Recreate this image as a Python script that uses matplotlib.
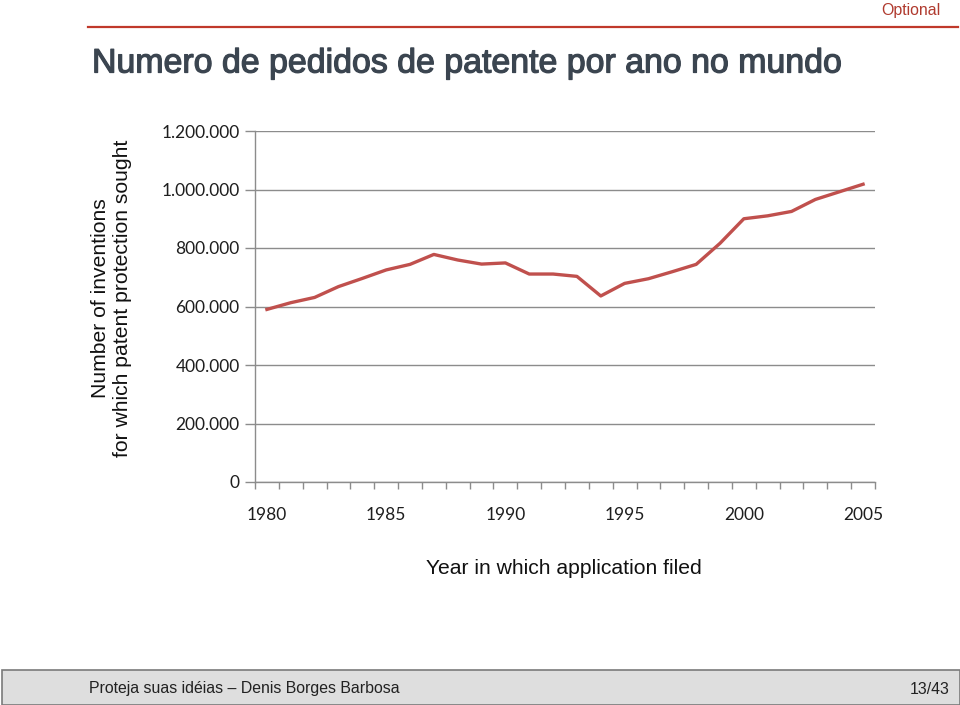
import matplotlib.pyplot as plt
import matplotlib.patheffects as pe
from matplotlib.patches import Rectangle
from matplotlib.lines import Line2D
from matplotlib.ticker import FuncFormatter

# Patent applications per year
years = list(range(1980, 2006))
applications = [590000, 613000, 631000, 668000, 696000, 725000, 744000, 778000,
                759000, 745000, 749000, 711000, 711000, 703000, 636000, 679000,
                695000, 719000, 744000, 816000, 900000, 910000, 925000, 966000,
                992000, 1018000]
year_labels = ["1980", "1985", "1990", "1995", "2000", "2005"]
y_ticks = [0, 200000, 400000, 600000, 800000, 1000000, 1200000]

fig = plt.figure(figsize=(9.6, 7.05), dpi=100)

# top decoration and slide title
fig.add_artist(Line2D([88 / 960, 958 / 960], [1 - 27 / 705, 1 - 27 / 705],
                      color="#c0392b", lw=1.6))
fig.text(941 / 960, 1 - 11 / 705, "Optional", color="#b03a2e", fontsize=11.4,
         family="Liberation Sans", ha="right", va="center")
title = fig.text(92 / 960, 1 - 64 / 705, "Numero de pedidos de patente por ano no mundo",
                 color="#3b4550", fontsize=24.4, family="Liberation Sans",
                 ha="left", va="center")
# the original title looks a little heavier than plain regular
title.set_path_effects([pe.withStroke(linewidth=0.9, foreground="#3b4550")])

# chart area
ax = fig.add_axes([255 / 960, 1 - 482 / 705, 620 / 960, (482 - 131) / 705])
pos = list(range(len(years)))
ax.plot(pos, applications, color="#c0504d", lw=2.4, solid_joinstyle="round")

ax.set_xlim(-0.5, len(years) - 0.5)
ax.set_ylim(0, 1200000)
ax.set_yticks(y_ticks)
ax.yaxis.set_major_formatter(FuncFormatter(lambda v, p: f"{int(v):,}".replace(",", ".")))
ax.grid(axis="y", color="#8c8c8c", lw=1.0)
ax.set_axisbelow(True)

# category boundaries as ticks, year labels every 5 years
ax.set_xticks([i - 0.5 for i in range(len(years) + 1)])
ax.set_xticklabels([])
ax.set_xticks([years.index(int(y)) for y in year_labels], minor=True)
ax.set_xticklabels(year_labels, minor=True)
ax.tick_params(axis="x", which="major", length=5, color="#8c8c8c", width=1)
ax.tick_params(axis="x", which="minor", length=0, pad=18, labelsize=12.5,
               labelcolor="#1e1e1e")
ax.tick_params(axis="y", length=7, color="#8c8c8c", width=1, pad=4,
               labelsize=12.5, labelcolor="#1e1e1e")
for lbl in ax.get_xticklabels(minor=True) + ax.get_yticklabels():
    lbl.set_family("Lato")

for s in ["top", "right"]:
    ax.spines[s].set_visible(False)
for s in ["left", "bottom"]:
    ax.spines[s].set_color("#8c8c8c")
    ax.spines[s].set_linewidth(1.0)

fig.text(112 / 960, 1 - 298 / 705,
         "Number of inventions\nfor which patent protection sought",
         rotation=90, ha="center", va="center", fontsize=15.2,
         family="Liberation Sans", color="#111111", linespacing=1.2)
fig.text(564 / 960, 1 - 568 / 705, "Year in which application filed",
         ha="center", va="center", fontsize=15.2, family="Liberation Sans",
         color="#111111")

# footer bar
fig.add_artist(Rectangle((2 / 960, 0), 958 / 960, 35 / 705, transform=fig.transFigure,
                         facecolor="#dedede", edgecolor="#7a7a7a", lw=1.2))
fig.text(89 / 960, 1 - 688 / 705, "Proteja suas idéias – Denis Borges Barbosa",
         fontsize=11.4, family="Liberation Sans", color="#222222",
         ha="left", va="center")
fig.text(950 / 960, 1 - 689 / 705, "13/43", fontsize=11.4, family="Liberation Sans",
         color="#222222", ha="right", va="center")

fig.savefig("out.png", dpi=100)
